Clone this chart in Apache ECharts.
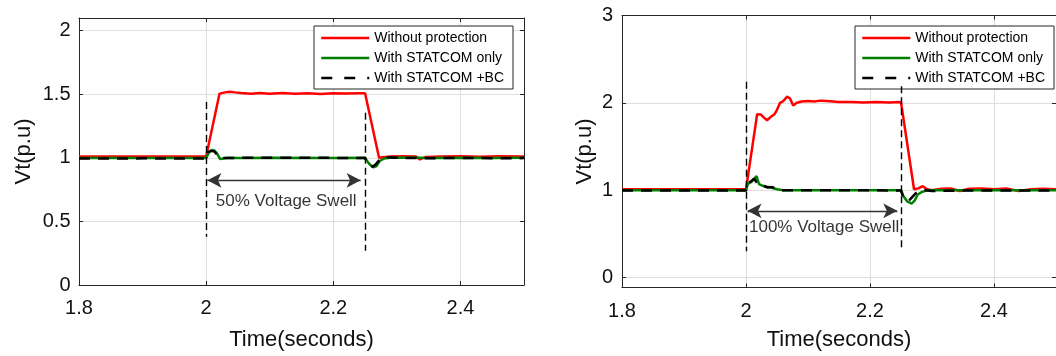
<!DOCTYPE html>
<html>
<head>
<meta charset="utf-8">
<script src="https://cdn.jsdelivr.net/npm/echarts@6/dist/echarts.min.js"></script>
<style>
  html, body { margin: 0; padding: 0; background: #fff; }
  #chart { width: 1056px; height: 356px; }
</style>
</head>
<body>
<div id="chart"></div>
<script>
// Shared time axis (seconds)
const timeTicks = [1.8, 2, 2.2, 2.4];
const timeRange = [1.8, 2.5];

// Terminal voltage axes (p.u)
const leftVtTicks = [0, 0.5, 1, 1.5, 2];
const leftVtRange = [0, 2.1];
const rightVtTicks = [0, 1, 2, 3];
const rightVtRange = [-0.115, 3];

const seriesNames = ['Without protection', 'With STATCOM only', 'With STATCOM +BC'];

// 50% swell case, [time, Vt]
const swell50Unprotected = [
  [1.8, 1.01], [1.85, 1.01], [1.9, 1.011], [1.95, 1.01], [2.0, 1.01],
  [2.021, 1.505], [2.03, 1.515], [2.037, 1.52], [2.045, 1.515], [2.055, 1.51],
  [2.07, 1.505], [2.085, 1.51], [2.1, 1.505], [2.12, 1.51], [2.14, 1.505],
  [2.16, 1.508], [2.18, 1.503], [2.2, 1.508], [2.22, 1.506], [2.24, 1.508],
  [2.25, 1.508], [2.272, 1.0], [2.278, 1.005], [2.29, 1.01], [2.31, 1.012],
  [2.33, 1.01], [2.336, 0.988], [2.345, 1.006], [2.37, 1.01], [2.4, 1.012],
  [2.43, 1.008], [2.46, 1.012], [2.5, 1.01]
];
const swell50Statcom = [
  [1.8, 0.998], [1.9, 0.999], [2.0, 0.998], [2.004, 1.04], [2.009, 1.062],
  [2.013, 1.058], [2.017, 1.035], [2.022, 0.99], [2.027, 0.995], [2.035, 1.0],
  [2.05, 0.998], [2.1, 1.0], [2.2, 0.999], [2.25, 1.0], [2.254, 0.97],
  [2.258, 0.945], [2.263, 0.925], [2.268, 0.935], [2.273, 0.975], [2.28, 0.995],
  [2.29, 1.0], [2.32, 1.003], [2.35, 0.998], [2.4, 1.0], [2.45, 0.998], [2.5, 1.0]
];
const swell50StatcomBC = [
  [1.8, 0.995], [1.9, 0.996], [2.0, 0.995], [2.003, 1.045], [2.008, 1.055],
  [2.013, 1.05], [2.018, 1.02], [2.024, 0.998], [2.05, 1.0], [2.1, 1.0],
  [2.2, 1.0], [2.25, 0.998], [2.253, 0.965], [2.258, 0.94], [2.262, 0.93],
  [2.267, 0.95], [2.272, 0.98], [2.278, 0.995], [2.285, 1.005], [2.3, 1.0],
  [2.35, 0.997], [2.4, 1.0], [2.45, 0.997], [2.5, 0.998]
];

// 100% swell case, [time, Vt]
const swell100Unprotected = [
  [1.8, 1.01], [1.9, 1.01], [2.0, 1.01], [2.018, 1.87], [2.024, 1.865],
  [2.029, 1.83], [2.034, 1.8], [2.04, 1.84], [2.046, 1.87], [2.05, 1.92],
  [2.055, 2.0], [2.06, 2.02], [2.066, 2.07], [2.071, 2.05], [2.076, 1.97],
  [2.082, 2.0], [2.09, 2.015], [2.1, 2.02], [2.11, 2.015], [2.12, 2.025],
  [2.13, 2.02], [2.15, 2.01], [2.17, 2.01], [2.19, 2.005], [2.21, 2.008],
  [2.23, 2.005], [2.25, 2.008], [2.271, 1.01], [2.278, 1.02], [2.285, 1.045],
  [2.292, 1.01], [2.3, 1.0], [2.315, 1.015], [2.33, 1.02], [2.345, 0.99],
  [2.36, 1.015], [2.38, 1.02], [2.4, 1.01], [2.42, 1.02], [2.44, 0.99],
  [2.46, 1.01], [2.48, 1.015], [2.5, 1.01]
];
const swell100Statcom = [
  [1.8, 1.0], [1.9, 1.0], [2.0, 1.0], [2.003, 1.07], [2.008, 1.09],
  [2.012, 1.12], [2.017, 1.16], [2.021, 1.07], [2.027, 1.05], [2.033, 1.04],
  [2.04, 1.03], [2.05, 1.01], [2.06, 1.0], [2.1, 1.0], [2.2, 1.0],
  [2.25, 1.0], [2.254, 0.93], [2.26, 0.87], [2.267, 0.845], [2.272, 0.88],
  [2.277, 0.95], [2.284, 0.98], [2.295, 1.0], [2.35, 1.0], [2.4, 1.0], [2.5, 1.0]
];
const swell100StatcomBC = [
  [1.8, 0.995], [1.9, 0.996], [2.0, 0.995], [2.003, 1.08], [2.008, 1.1],
  [2.013, 1.13], [2.017, 1.09], [2.022, 1.06], [2.028, 1.05], [2.035, 1.03],
  [2.042, 1.035], [2.048, 1.02], [2.055, 1.0], [2.1, 0.998], [2.2, 0.998],
  [2.25, 0.995], [2.253, 0.93], [2.258, 0.89], [2.263, 0.88], [2.268, 0.92],
  [2.274, 0.965], [2.28, 0.985], [2.29, 1.0], [2.3, 0.99], [2.35, 0.995],
  [2.4, 0.997], [2.5, 0.997]
];

// Swell start/end markers: [time, upper Vt, lower Vt]
const swell50Events = [[2.0, 1.44, 0.38], [2.25, 1.354, 0.27]];
const swell100Events = [[2.0, 2.24, 0.3], [2.25, 2.19, 0.33]];
// Duration arrows: [start time, end time, Vt]
const swell50Arrow = [2.002, 2.243, 0.823];
const swell100Arrow = [2.0025, 2.244, 0.763];
// Annotations: [time, Vt, text]
const swell50Note = [2.126, 0.656, '50% Voltage Swell'];
const swell100Note = [2.126, 0.58, '100% Voltage Swell'];

const FONT = '"Liberation Sans", Arial, Helvetica, sans-serif';
const INK = '#262626';
const TEXT = '#111111';
const GRIDLINE = '#dedede';

function timeAxes(gridIndex, labelMargin, nameGap) {
  return [{
    type: 'value', gridIndex: gridIndex, position: 'bottom',
    min: timeRange[0], max: timeRange[1],
    axisLine: { show: true, onZero: false, lineStyle: { color: INK, width: 1 } },
    axisTick: { show: true, inside: true, length: 4, customValues: timeTicks, lineStyle: { color: INK } },
    axisLabel: { show: true, customValues: timeTicks, margin: labelMargin, fontSize: 20, color: TEXT, fontFamily: FONT },
    splitLine: { show: true, lineStyle: { color: GRIDLINE, width: 1 } },
    name: 'Time(seconds)', nameLocation: 'middle', nameGap: nameGap,
    nameTextStyle: { fontSize: 22, color: TEXT, fontFamily: FONT }
  }, {
    type: 'value', gridIndex: gridIndex, position: 'top',
    min: timeRange[0], max: timeRange[1],
    axisLine: { show: true, onZero: false, lineStyle: { color: INK, width: 1 } },
    axisTick: { show: true, inside: true, length: 4, customValues: timeTicks, lineStyle: { color: INK } },
    axisLabel: { show: false },
    splitLine: { show: false }
  }];
}

function vtAxes(gridIndex, range, ticks, labelMargin, nameGap) {
  return [{
    type: 'value', gridIndex: gridIndex, position: 'left',
    min: range[0], max: range[1],
    axisLine: { show: true, onZero: false, lineStyle: { color: INK, width: 1 } },
    axisTick: { show: true, inside: true, length: 4, customValues: ticks, lineStyle: { color: INK } },
    axisLabel: { show: true, customValues: ticks, margin: labelMargin, fontSize: 20, color: TEXT, fontFamily: FONT },
    splitLine: { show: true, lineStyle: { color: GRIDLINE, width: 1 } },
    name: 'Vt(p.u)', nameLocation: 'middle', nameGap: nameGap,
    nameTextStyle: { fontSize: 22, color: TEXT, fontFamily: FONT }
  }, {
    type: 'value', gridIndex: gridIndex, position: 'right',
    min: range[0], max: range[1],
    axisLine: { show: true, onZero: false, lineStyle: { color: INK, width: 1 } },
    axisTick: { show: true, inside: true, length: 4, customValues: ticks, lineStyle: { color: INK } },
    axisLabel: { show: false },
    splitLine: { show: false }
  }];
}

function curves(axisIndex, unprotected, statcom, statcomBC) {
  const base = {
    type: 'line', xAxisIndex: axisIndex, yAxisIndex: axisIndex,
    symbol: 'none', silent: true, animation: false
  };
  return [
    Object.assign({}, base, {
      name: seriesNames[0], data: unprotected, z: 2,
      itemStyle: { color: '#ff0000' },
      lineStyle: { color: '#ff0000', width: 2.5 }
    }),
    Object.assign({}, base, {
      name: seriesNames[1], data: statcom, z: 3,
      itemStyle: { color: '#008000' },
      lineStyle: { color: '#008000', width: 2.5 }
    }),
    Object.assign({}, base, {
      name: seriesNames[2], data: statcomBC, z: 4,
      itemStyle: { color: '#000000' },
      lineStyle: { color: '#000000', width: 2.5, type: [11, 8] }
    })
  ];
}

function annotation(axisIndex, events, arrow, note) {
  const lines = events.map(function (e) {
    return [{ coord: [e[0], e[1]] }, { coord: [e[0], e[2]] }];
  });
  lines.push([
    { coord: [arrow[0], arrow[2]], symbol: 'arrow', symbolSize: [11, 14],
      lineStyle: { type: 'solid', color: '#333333', width: 1.3 } },
    { coord: [arrow[1], arrow[2]], symbol: 'arrow', symbolSize: [11, 14] }
  ]);
  return {
    type: 'scatter', name: 'note', xAxisIndex: axisIndex, yAxisIndex: axisIndex,
    data: [[note[0], note[1]]], symbolSize: 1, silent: true, animation: false, z: 5,
    itemStyle: { color: 'rgba(0,0,0,0)' },
    label: {
      show: true, position: 'inside', formatter: note[2], fontSize: 17,
      color: '#000000', textBorderWidth: 0, fontFamily: FONT
    },
    markLine: {
      silent: true, animation: false, symbol: ['none', 'none'],
      label: { show: false }, emphasis: { disabled: true },
      lineStyle: { color: '#000000', width: 1.4, type: [7, 4] },
      data: lines
    }
  };
}

function legendBox(left, top) {
  return {
    orient: 'vertical', left: left, top: top,
    data: [seriesNames[0], seriesNames[1], { name: seriesNames[2], lineStyle: { type: [11, 12] } }],
    itemWidth: 48, itemHeight: 14, itemGap: 6,
    padding: [5, 9, 4, 6],
    backgroundColor: '#ffffff', borderColor: INK, borderWidth: 1, borderRadius: 0,
    selectedMode: false,
    itemStyle: { opacity: 0, borderWidth: 0 },
    lineStyle: { width: 2.5 },
    textStyle: { fontSize: 14, color: '#000000', fontFamily: FONT, lineHeight: 14 }
  };
}

const chart = echarts.init(document.getElementById('chart'), null, { renderer: 'canvas' });
chart.setOption({
  animation: false,
  backgroundColor: '#ffffff',
  textStyle: { fontFamily: FONT },
  grid: [
    { left: 79, top: 18, width: 445, height: 273 },
    { left: 622, top: 15.5, width: 444, height: 272 }
  ],
  xAxis: timeAxes(0, 13, 44).concat(timeAxes(1, 14, 41)),
  yAxis: vtAxes(0, leftVtRange, leftVtTicks, 8.5, 44).concat(vtAxes(1, rightVtRange, rightVtTicks, 9, 26)),
  legend: [legendBox(314, 26), legendBox(855, 26)],
  series: []
    .concat(curves(0, swell50Unprotected, swell50Statcom, swell50StatcomBC))
    .concat([annotation(0, swell50Events, swell50Arrow, swell50Note)])
    .concat(curves(2, swell100Unprotected, swell100Statcom, swell100StatcomBC))
    .concat([annotation(2, swell100Events, swell100Arrow, swell100Note)])
});
</script>
</body>
</html>
